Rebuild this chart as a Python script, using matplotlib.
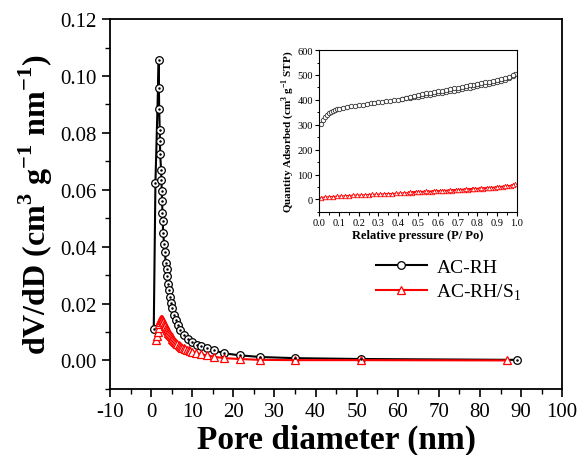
import matplotlib
matplotlib.use("Agg")
import matplotlib.pyplot as plt
from matplotlib.ticker import MultipleLocator

plt.rcParams["font.family"] = ["Liberation Serif", "DejaVu Serif"]
plt.rcParams["mathtext.fontset"] = "custom"
plt.rcParams["mathtext.rm"] = "Liberation Serif"
plt.rcParams["mathtext.bf"] = "Liberation Serif:bold"
plt.rcParams["axes.unicode_minus"] = False

# pore size distribution (BJH), AC-RH
psd_rh_d = [0.64, 1.05, 1.86, 1.90, 1.96, 2.10, 2.15, 2.20, 2.43, 2.50, 2.60, 2.67,
            2.75, 2.84, 2.92, 3.16, 3.33, 3.57, 3.80, 3.97, 4.20, 4.40, 4.60, 4.85,
            5.20, 5.50, 6.00, 6.50, 7.13, 7.94, 8.90, 9.95, 11.2, 12.2, 13.6, 15.4,
            17.8, 21.5, 26.6, 35.1, 51.1, 88.9]
psd_rh_v = [0.0110, 0.0625, 0.1055, 0.0957, 0.0884, 0.0811, 0.0772, 0.0724, 0.0670,
            0.0636, 0.0595, 0.0559, 0.0520, 0.0490, 0.0449, 0.0410, 0.0380, 0.0344,
            0.0323, 0.0297, 0.0268, 0.0247, 0.0224, 0.0203, 0.0183, 0.0161, 0.0141,
            0.0124, 0.0106, 0.0089, 0.0075, 0.0066, 0.0056, 0.0050, 0.0043, 0.0035,
            0.0025, 0.0018, 0.0012, 0.0008, 0.0005, 0.0002]

# pore size distribution, AC-RH/S1
psd_s1_d = [1.10, 1.40, 1.60, 1.80, 2.00, 2.15, 2.26, 2.40, 2.50, 2.62, 2.75, 2.88,
            3.00, 3.15, 3.30, 3.45, 3.60, 3.75, 3.90, 4.05, 4.20, 4.40, 4.60, 4.80,
            5.00, 5.20, 5.40, 5.65, 5.90, 6.15, 6.40, 6.70, 7.00, 7.30, 7.60, 7.95,
            8.30, 8.70, 9.10, 9.55, 10.0, 11.0, 12.2, 13.6, 15.4, 17.8, 21.5, 26.6,
            35.1, 51.1, 86.6]
psd_s1_v = [0.0072, 0.0086, 0.0100, 0.0114, 0.0128, 0.0135, 0.0141, 0.0145, 0.0147,
            0.0146, 0.0143, 0.0139, 0.0134, 0.0129, 0.0124, 0.0120, 0.0115, 0.0111,
            0.0106, 0.0102, 0.0098, 0.0094, 0.0089, 0.0085, 0.0081, 0.0077, 0.0073,
            0.0069, 0.0065, 0.0062, 0.0058, 0.0054, 0.0051, 0.0048, 0.0045, 0.0042,
            0.0040, 0.0037, 0.0035, 0.0032, 0.0030, 0.0026, 0.0021, 0.0018, 0.0013,
            0.0008, 0.0005, 0.0002, 0.0001, 0.0001, 0.0000]

# N2 isotherms for the inset
iso_rh_p = [0.01, 0.02, 0.03, 0.04, 0.05, 0.06, 0.07, 0.08, 0.09, 0.10, 0.12, 0.14,
            0.16, 0.18, 0.20, 0.22, 0.24, 0.26, 0.28, 0.30, 0.32, 0.34, 0.36, 0.38,
            0.40, 0.42, 0.44, 0.46, 0.48, 0.50, 0.52, 0.54, 0.56, 0.58, 0.60, 0.62,
            0.64, 0.66, 0.68, 0.70, 0.72, 0.74, 0.76, 0.78, 0.80, 0.82, 0.84, 0.86,
            0.88, 0.90, 0.92, 0.94, 0.96, 0.98, 0.99,
            0.98, 0.96, 0.94, 0.92, 0.90, 0.88, 0.86, 0.84, 0.82, 0.80, 0.78, 0.76,
            0.74, 0.72, 0.70, 0.68, 0.66, 0.64, 0.62, 0.60, 0.58, 0.56, 0.54, 0.52,
            0.50, 0.48, 0.46, 0.44, 0.42]
iso_rh_q = [302, 318, 330, 340, 347, 352, 356, 359, 362, 364, 368, 371,
            374, 377, 379, 381, 383, 386, 388, 390, 392, 394, 397, 399,
            401, 403, 406, 408, 411, 413, 416, 418, 421, 423, 426, 428,
            431, 434, 437, 440, 443, 446, 449, 452, 455, 458, 461, 465,
            468, 472, 476, 481, 487, 496, 505,
            500, 492, 487, 483, 480, 476, 473, 470, 467, 464, 461, 458,
            455, 452, 449, 446, 443, 440, 437, 434, 431, 428, 426, 423,
            420, 416, 412, 409, 405]

iso_s1_p = [0.01, 0.03, 0.05, 0.07, 0.09, 0.11, 0.13, 0.15, 0.17, 0.19, 0.21, 0.23,
            0.25, 0.27, 0.29, 0.31, 0.33, 0.35, 0.37, 0.39, 0.41, 0.43, 0.45, 0.47,
            0.49, 0.51, 0.53, 0.55, 0.57, 0.59, 0.61, 0.63, 0.65, 0.67, 0.69, 0.71,
            0.73, 0.75, 0.77, 0.79, 0.81, 0.83, 0.85, 0.87, 0.89, 0.91, 0.93, 0.95,
            0.97, 0.99,
            0.98, 0.94, 0.90, 0.86, 0.82, 0.78, 0.74, 0.70, 0.66, 0.62, 0.58, 0.54,
            0.50, 0.46]
iso_s1_q = [8, 10, 11, 12, 13, 14, 15, 16, 17, 18, 18, 19,
            20, 21, 21, 22, 23, 24, 24, 25, 26, 27, 27, 28,
            29, 30, 30, 31, 32, 33, 34, 34, 35, 36, 37, 38,
            39, 40, 41, 42, 43, 44, 45, 46, 48, 49, 51, 53,
            56, 61,
            58, 54, 51, 48, 46, 44, 42, 40, 38, 36, 35, 33,
            32, 30]

RED = "#ff0000"

fig = plt.figure(figsize=(5.79, 4.56), dpi=100)
ax = fig.add_axes([0.190, 0.145, 0.781, 0.811])

ax.plot(psd_rh_d, psd_rh_v, color="black", lw=1.5, marker="o", ms=5.5,
        mfc="white", mec="black", mew=0.9, label="AC-RH", zorder=3)
ax.plot(psd_rh_d, psd_rh_v, ls="none", marker="o", ms=0.8, color="black", zorder=4)
ax.plot(psd_s1_d, psd_s1_v, color=RED, lw=1.5, marker="^", ms=6,
        mfc="white", mec=RED, mew=0.9, label="AC-RH/S$_1$", zorder=3)

ax.set_xlim(-10, 100)
ax.set_ylim(-0.01, 0.12)
ax.xaxis.set_major_locator(MultipleLocator(10))
ax.xaxis.set_minor_locator(MultipleLocator(5))
ax.yaxis.set_major_locator(MultipleLocator(0.02))
ax.yaxis.set_minor_locator(MultipleLocator(0.01))
ax.yaxis.set_major_formatter(plt.FormatStrFormatter("%.2f"))
ax.tick_params(which="major", direction="out", length=6, width=1.2, labelsize=15)
ax.tick_params(which="minor", direction="out", length=3.5, width=1.0)
for sp in ax.spines.values():
    sp.set_linewidth(1.3)

ax.set_xlabel("Pore diameter (nm)", fontsize=24, fontweight="bold", labelpad=2)
ax.set_ylabel(r"dV/dD (cm$^{\mathbf{3}}$ g$^{\mathbf{-1}}$ nm$^{\mathbf{-1}}$)",
              fontsize=23, fontweight="bold", labelpad=4)

ax.legend(loc="upper left", bbox_to_anchor=(0.55, 0.40), frameon=False,
          fontsize=14, handlelength=2.6, handletextpad=0.5, labelspacing=0.3)

# inset: N2 adsorption-desorption isotherms
ins = fig.add_axes([0.551, 0.533, 0.342, 0.355])
ins.plot(iso_rh_p, iso_rh_q, color="black", lw=0.8, marker="o", ms=3.2,
         mfc="white", mec="#333333", mew=0.6)
ins.plot(iso_s1_p, iso_s1_q, color=RED, lw=0.8, marker="^", ms=3.2,
         mfc="white", mec=RED, mew=0.6)
ins.set_xlim(0, 1.0)
ins.set_ylim(-50, 600)
ins.xaxis.set_major_locator(MultipleLocator(0.1))
ins.xaxis.set_minor_locator(MultipleLocator(0.05))
ins.yaxis.set_major_locator(MultipleLocator(100))
ins.yaxis.set_minor_locator(MultipleLocator(50))
ins.xaxis.set_major_formatter(plt.FormatStrFormatter("%.1f"))
ins.tick_params(which="major", direction="out", length=3, width=0.8, labelsize=7.5, pad=1.5)
ins.tick_params(which="minor", direction="out", length=1.8, width=0.7)
for sp in ins.spines.values():
    sp.set_linewidth(0.8)
ins.set_xlabel("Relative pressure (P/ Po)", fontsize=9, fontweight="bold", labelpad=1)
ins.set_ylabel(r"Quantity Adsorbed (cm$^{\mathbf{3}}$ g$^{\mathbf{-1}}$ STP)",
               fontsize=8, fontweight="bold", labelpad=1)

fig.savefig("out.png", dpi=100)
